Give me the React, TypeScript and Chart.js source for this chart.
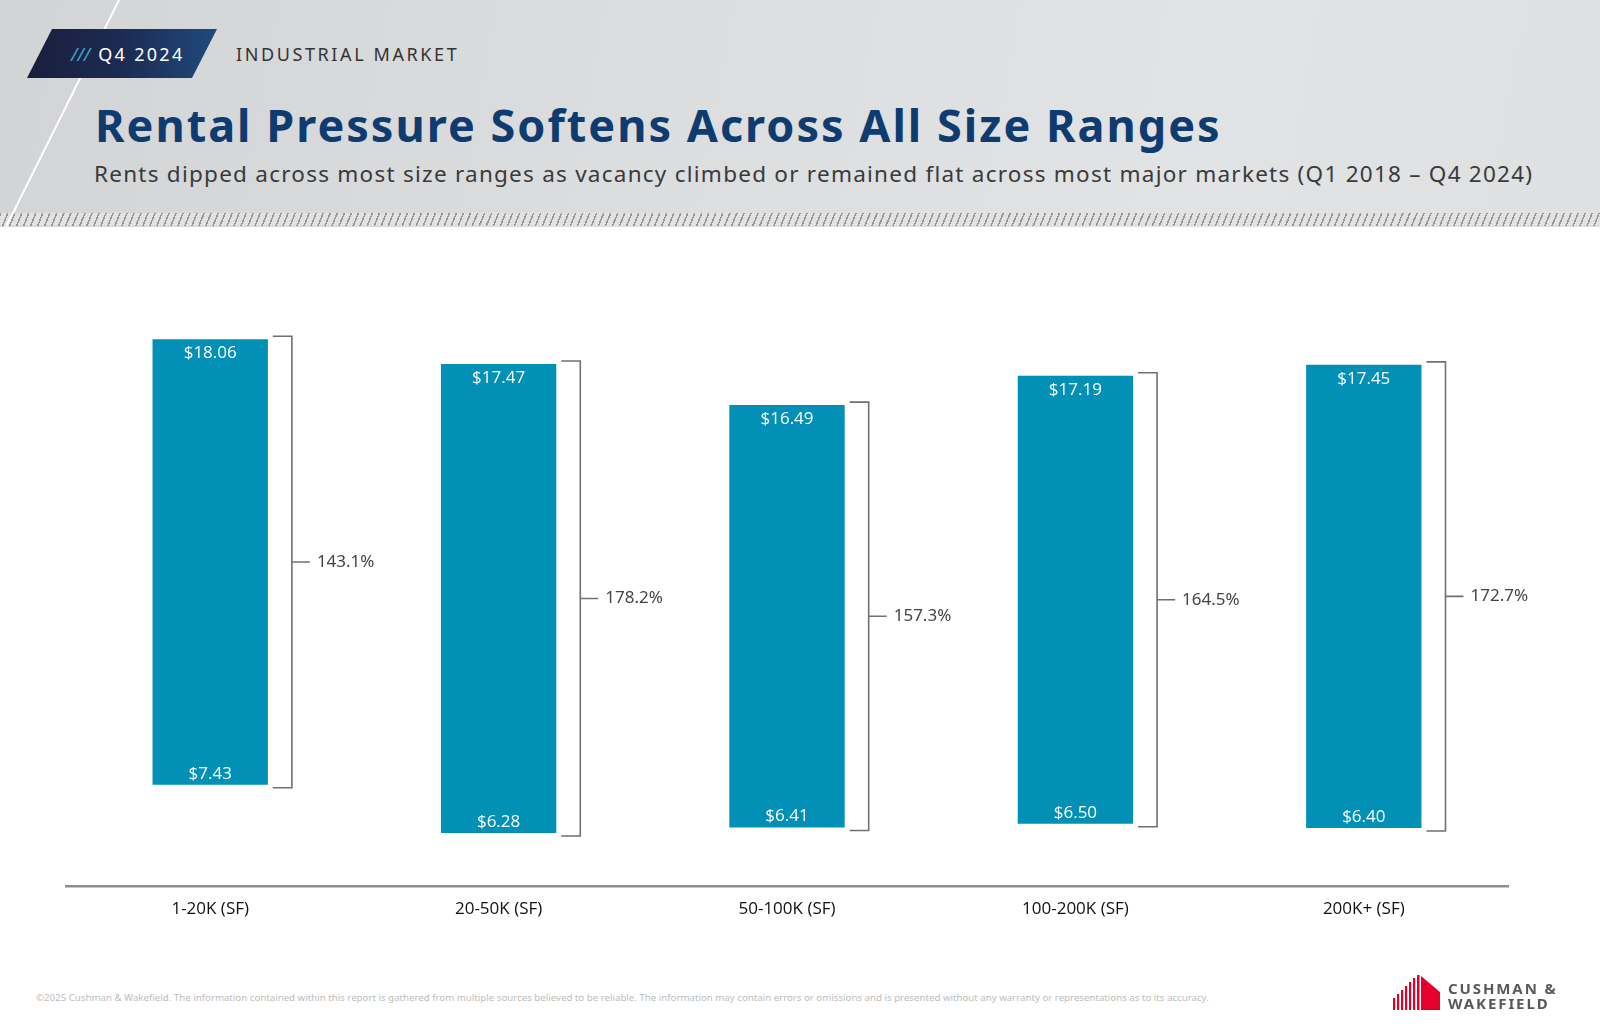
import React, { useEffect, useRef } from "react";
import { Chart, registerables } from "chart.js";

Chart.register(...registerables);

const categories = ["1-20K (SF)", "20-50K (SF)", "50-100K (SF)", "100-200K (SF)", "200K+ (SF)"];
const rentQ1_2018 = [7.43, 6.28, 6.41, 6.5, 6.4];
const rentQ4_2024 = [18.06, 17.47, 16.49, 17.19, 17.45];
const growthLabels = ["143.1%", "178.2%", "157.3%", "164.5%", "172.7%"];

const BAR_COLOR = "#0290b6";

const annotatePlugin = {
  id: "annotate",
  afterDatasetsDraw(chart: any) {
    const ctx = chart.ctx;
    const meta = chart.getDatasetMeta(0);
    const yScale = chart.scales.y;
    meta.data.forEach((bar: any, i: number) => {
      const { x, width } = bar.getProps(["x", "width"], true);
      const top = yScale.getPixelForValue(rentQ4_2024[i]);
      const bottom = yScale.getPixelForValue(rentQ1_2018[i]);
      const right = x + width / 2;
      ctx.save();
      ctx.fillStyle = "#ffffff";
      ctx.font = "17px 'Open Sans'";
      ctx.textAlign = "center";
      ctx.textBaseline = "middle";
      ctx.fillText("$" + rentQ4_2024[i].toFixed(2), x, top + 14);
      ctx.fillText("$" + rentQ1_2018[i].toFixed(2), x, bottom - 11);

      const bx = right + 24;
      const mid = (top + bottom) / 2;
      ctx.strokeStyle = "#707070";
      ctx.lineWidth = 1.6;
      ctx.beginPath();
      ctx.moveTo(right + 5, top - 3);
      ctx.lineTo(bx, top - 3);
      ctx.lineTo(bx, bottom + 3);
      ctx.lineTo(right + 5, bottom + 3);
      ctx.moveTo(bx, mid);
      ctx.lineTo(bx + 18, mid);
      ctx.stroke();

      ctx.fillStyle = "#444444";
      ctx.textAlign = "left";
      ctx.font = "17px 'Noto Sans'";
      ctx.fillText(growthLabels[i], bx + 25, mid);
      ctx.restore();
    });
  },
};

function ChartCanvas() {
  const ref = useRef<HTMLCanvasElement | null>(null);
  useEffect(() => {
    if (!ref.current) return;
    const chart = new Chart(ref.current, {
      type: "bar",
      data: {
        labels: categories,
        datasets: [
          {
            label: "Rent range",
            data: rentQ1_2018.map((lo, i) => [lo, rentQ4_2024[i]]) as any,
            backgroundColor: BAR_COLOR,
            borderWidth: 0,
            barPercentage: 0.4,
            categoryPercentage: 1,
          },
        ],
      },
      options: {
        animation: false,
        responsive: false,
        devicePixelRatio: 1,
        layout: { padding: { left: 66, right: 92, top: 18, bottom: 9 } },
        plugins: {
          legend: { display: false },
          tooltip: { enabled: false },
          title: { display: false },
        },
        scales: {
          x: {
            grid: { display: false, drawTicks: false },
            border: { display: true, color: "#8c8c8c", width: 2.5 },
            ticks: {
              color: "#111111",
              font: { family: "'Open Sans'", size: 17 },
              padding: 12,
            },
          },
          y: {
            display: false,
            min: 5,
            max: 20,
          },
        },
      },
      plugins: [annotatePlugin],
    });
    return () => chart.destroy();
  }, []);
  return (
    <canvas
      ref={ref}
      width={1600}
      height={700}
      style={{ position: "absolute", left: 0, top: 240, width: 1600, height: 700 }}
    />
  );
}

function Logo() {
  const red = "#e4002b";
  const thin = [
    { x: 1393, top: 998 },
    { x: 1397, top: 994 },
    { x: 1401, top: 990 },
    { x: 1405, top: 986 },
    { x: 1409, top: 982 },
    { x: 1413, top: 978 },
  ];
  return (
    <svg
      width={1600}
      height={1035}
      style={{ position: "absolute", left: 0, top: 0, pointerEvents: "none" }}
    >
      {thin.map((b, i) => (
        <rect key={i} x={b.x} y={b.top} width={2.2} height={1010 - b.top} fill={red} />
      ))}
      <rect x={1417} y={975} width={2.5} height={35} fill={red} />
      <polygon points="1421,976 1440,992 1440,1010 1421,1010" fill={red} />
    </svg>
  );
}

export default function App() {
  return (
    <div
      style={{
        position: "absolute",
        left: 0,
        top: 0,
        width: 1600,
        height: 1035,
        overflow: "hidden",
        background: "#ffffff",
        fontFamily: "'Noto Sans', sans-serif",
      }}
    >
      {/* header background */}
      <div
        style={{
          position: "absolute",
          left: 0,
          top: 0,
          width: 1600,
          height: 227,
          background: "linear-gradient(100deg, #d3d4d6 0%, #dcdddf 40%, #e2e3e4 75%, #dfe0e1 100%)",
        }}
      />
      {/* hatched band */}
      <div
        style={{
          position: "absolute",
          left: 0,
          top: 213,
          width: 1600,
          height: 13,
          background:
            "repeating-linear-gradient(112deg, #969696 0px, #969696 1.5px, #e2e2e2 1.5px, #e2e2e2 6.5px)",
        }}
      />
      {/* white diagonal line */}
      <svg width={1600} height={230} style={{ position: "absolute", left: 0, top: 0 }}>
        <line x1={119} y1={0} x2={6} y2={227} stroke="#ffffff" strokeWidth={2} />
      </svg>
      {/* badge */}
      <div
        style={{
          position: "absolute",
          left: 27,
          top: 29,
          width: 190,
          height: 49,
          clipPath: "polygon(25px 0, 190px 0, 165px 49px, 0 49px)",
          background: "linear-gradient(90deg, #1a1e3c 0%, #1c2b52 50%, #1f4a7c 100%)",
        }}
      />
      <div
        style={{
          position: "absolute",
          left: 71,
          top: 30,
          height: 49,
          lineHeight: "49px",
          fontSize: 18,
          color: "#ffffff",
          whiteSpace: "nowrap",
          letterSpacing: 2.3,
        }}
      >
        <span style={{ color: "#3aa9d0", fontStyle: "italic", marginRight: 8, letterSpacing: 0 }}>///</span>
        Q4 2024
      </div>
      <div
        style={{
          position: "absolute",
          left: 236,
          top: 30,
          height: 49,
          lineHeight: "49px",
          fontSize: 18,
          color: "#333333",
          whiteSpace: "nowrap",
          letterSpacing: 2.6,
        }}
      >
        INDUSTRIAL MARKET
      </div>
      <div
        style={{
          position: "absolute",
          left: 95,
          top: 102,
          fontSize: 45,
          lineHeight: "45px",
          fontWeight: 700,
          color: "#0f3c70",
          whiteSpace: "nowrap",
          letterSpacing: 2,
        }}
      >
        Rental Pressure Softens Across All Size Ranges
      </div>
      <div
        style={{
          position: "absolute",
          left: 94,
          top: 163,
          fontSize: 22.5,
          lineHeight: "22px",
          color: "#3a3a3a",
          whiteSpace: "nowrap",
          letterSpacing: 1.25,
        }}
      >
        Rents dipped across most size ranges as vacancy climbed or remained flat across most major markets (Q1 2018 – Q4 2024)
      </div>

      <ChartCanvas />

      {/* footer */}
      <div
        style={{
          position: "absolute",
          left: 36,
          top: 991,
          fontSize: 9.7,
          lineHeight: "14px",
          color: "#bdbdbd",
          whiteSpace: "nowrap",
        }}
      >
        ©2025 Cushman &amp; Wakefield. The information contained within this report is gathered from multiple sources believed to be reliable. The information may contain errors or omissions and is presented without any warranty or representations as to its accuracy.
      </div>
      <Logo />
      <div
        style={{
          position: "absolute",
          left: 1448,
          top: 981,
          fontSize: 15,
          lineHeight: "15px",
          fontWeight: 700,
          color: "#58595b",
          letterSpacing: 1.9,
          whiteSpace: "nowrap",
        }}
      >
        CUSHMAN &amp;
        <br />
        WAKEFIELD
      </div>
    </div>
  );
}
